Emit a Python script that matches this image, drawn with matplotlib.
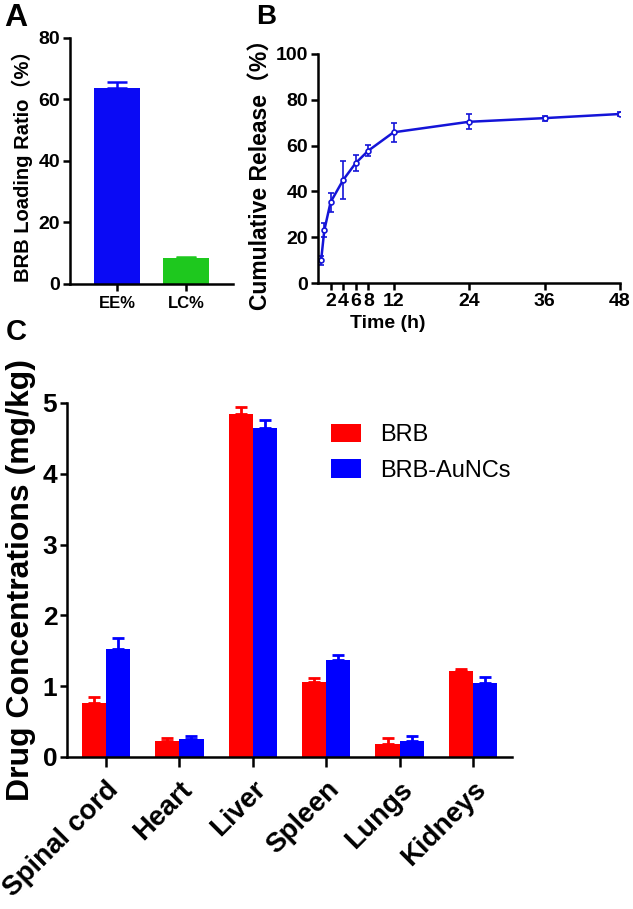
import numpy as np
import matplotlib
matplotlib.use('Agg')
import matplotlib.pyplot as plt

plt.rcParams['font.family'] = ['Liberation Sans', 'Noto Sans CJK SC', 'DejaVu Sans']
plt.rcParams['font.weight'] = 'bold'

# panel A data
a_labels = ['EE%', 'LC%']
a_values = [63.8, 8.3]
a_err = [2.0, 0.5]
a_colors = ['#0a0af5', '#1ec81e']

# panel B data
b_time = [0.5, 1, 2, 4, 6, 8, 12, 24, 36, 48]
b_release = [10.0, 23.0, 35.3, 45.0, 52.4, 57.8, 65.8, 70.4, 72.0, 73.8]
b_err = [2.0, 3.0, 4.2, 8.3, 3.3, 2.3, 4.2, 3.3, 1.1, 0.7]
b_xticks = [2, 4, 6, 8, 12, 24, 36, 48]

# panel C data
organs = ['Spinal cord', 'Heart', 'Liver', 'Spleen', 'Lungs', 'Kidneys']
brb = [0.76, 0.23, 4.84, 1.06, 0.19, 1.21]
brb_err = [0.09, 0.04, 0.10, 0.06, 0.08, 0.04]
aunc = [1.52, 0.25, 4.65, 1.37, 0.22, 1.04]
aunc_err = [0.16, 0.04, 0.11, 0.07, 0.08, 0.09]

W, H = 633, 909
fig = plt.figure(figsize=(W / 100, H / 100), dpi=100)


def px_axes(left, top, right, bottom):
    return fig.add_axes([left / W, 1 - bottom / H, (right - left) / W, (bottom - top) / H])


def style(ax, size):
    for s in ['top', 'right']:
        ax.spines[s].set_visible(False)
    for s in ['left', 'bottom']:
        ax.spines[s].set_linewidth(1.8)
    ax.tick_params(width=1.8, length=5, labelsize=size, pad=2)
    for lab in ax.get_xticklabels() + ax.get_yticklabels():
        lab.set_fontweight('bold')


# ---- A ----
axA = px_axes(70, 38, 233, 284)
xa = np.arange(len(a_labels))
axA.bar(xa, a_values, width=0.66, color=a_colors)
for i in range(len(xa)):
    axA.errorbar(xa[i], a_values[i], yerr=[[0], [a_err[i]]], color=a_colors[i],
                 capsize=7, elinewidth=1.8, capthick=1.8, fmt='none')
axA.set_xlim(-0.68, 1.68)
axA.set_ylim(0, 80)
axA.set_yticks([0, 20, 40, 60, 80])
axA.set_xticks(xa)
axA.set_xticklabels(a_labels)
style(axA, 14)
axA.tick_params(axis='x', labelsize=12, pad=4)
axA.set_ylabel('BRB Loading Ratio（%）', fontsize=14.5, fontweight='bold', labelpad=4)

# ---- B ----
axB = px_axes(318, 54, 620, 283)
axB.errorbar(b_time, b_release, yerr=b_err, color='#1414d8', lw=1.8, marker='o',
             ms=3.5, mfc='white', mew=1.2, capsize=2, elinewidth=1.2)
axB.set_xlim(0, 48)
axB.set_ylim(0, 100)
axB.set_xticks(b_xticks)
axB.set_yticks(np.arange(0, 101, 20))
style(axB, 14)
axB.set_ylabel('Cumulative Release（%）', fontsize=16.5, fontweight='bold', labelpad=2)
axB.set_xlabel('Time (h)', fontsize=14, fontweight='bold')
axB.xaxis.set_label_coords(0.23, -0.14)

# ---- C ----
axC = px_axes(67, 403, 512, 757)
xc = np.arange(len(organs))
bw = 0.33
axC.bar(xc - bw / 2, brb, width=bw, color='#ff0000', label='BRB')
axC.bar(xc + bw / 2, aunc, width=bw, color='#0000ff', label='BRB-AuNCs')
axC.errorbar(xc - bw / 2, brb, yerr=[np.zeros(len(brb)), brb_err], fmt='none',
             ecolor='#ff0000', capsize=4.5, elinewidth=2, capthick=2)
axC.errorbar(xc + bw / 2, aunc, yerr=[np.zeros(len(aunc)), aunc_err], fmt='none',
             ecolor='#0000ff', capsize=4.5, elinewidth=2, capthick=2)
axC.set_xlim(-0.53, 5.53)
axC.set_ylim(0, 5)
axC.set_yticks([0, 1, 2, 3, 4, 5])
axC.set_xticks(xc)
axC.set_xticklabels(organs, rotation=45, ha='right', rotation_mode='anchor')
style(axC, 19)
axC.tick_params(axis='x', length=7, pad=7, labelsize=20)
axC.set_ylabel('Drug Concentrations (mg/kg)', fontsize=23, fontweight='bold', labelpad=5)
axC.legend(loc='upper left', bbox_to_anchor=(0.545, 1.0), frameon=False,
           prop={'size': 17, 'weight': 'normal'}, handlelength=1.3, handleheight=0.8,
           labelspacing=0.55, handletextpad=0.8)

# panel letters
fig.text(4 / W, 1 - 26 / H, 'A', fontsize=23, fontweight='bold')
fig.text(256 / W, 1 - 24 / H, 'B', fontsize=20, fontweight='bold')
fig.text(6 / W, 1 - 340 / H, 'C', fontsize=21, fontweight='bold')

fig.savefig('out.png', dpi=100)
